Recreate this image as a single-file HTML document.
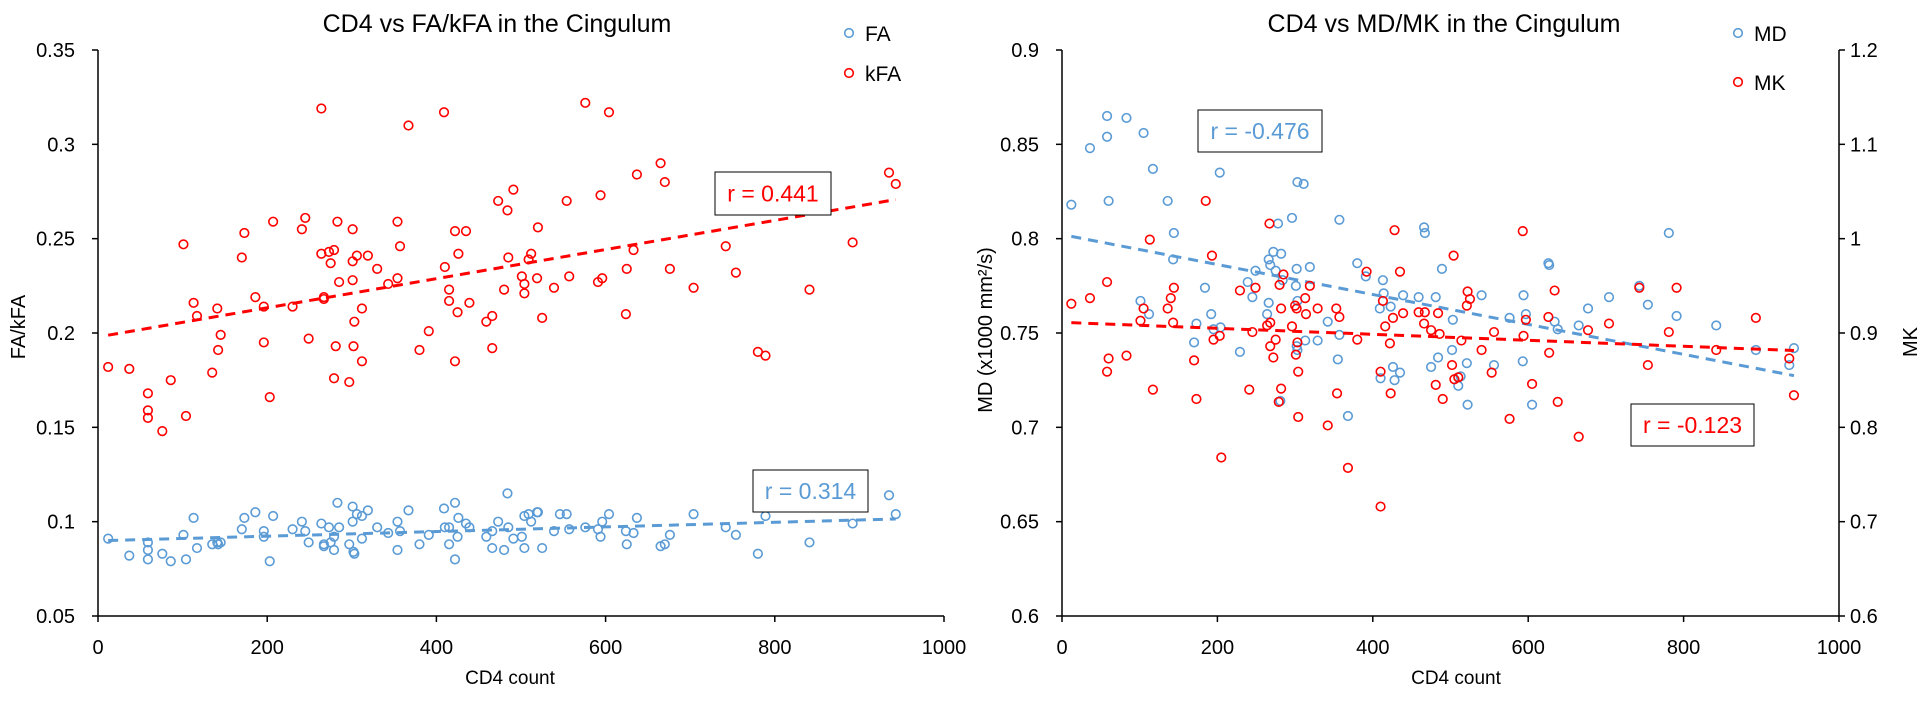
<!DOCTYPE html>
<html><head><meta charset="utf-8">
<style>
html,body{margin:0;padding:0;background:#fff;}
svg{display:block;font-family:"Liberation Sans",sans-serif;}
</style></head>
<body>
<svg id="chart" width="1928" height="710" viewBox="0 0 1928 710" xmlns="http://www.w3.org/2000/svg"></svg>
<script>
// ---------- Left chart data ----------
const cd4Left = [12,37,59,59,59,76,86,101,104,113,117,135,141,142,145,170,173,186,196,196,203,207,230,241,245,249,264,264,267,267,273,275,279,279,281,283,285,297,301,301,301,303,302,306,312,312,319,330,343,354,354,357,367,380,391,409,410,415,415,422,422,425,426,435,439,459,466,466,473,480,484,485,491,501,504,504,509,512,519,520,525,539,554,557,576,591,594,596,604,624,625,633,637,665,670,676,704,742,754,780,789,841,892,935,943];
const kfaValues = [0.182,0.181,0.168,0.159,0.155,0.148,0.175,0.247,0.156,0.216,0.209,0.179,0.213,0.191,0.199,0.240,0.253,0.219,0.214,0.195,0.166,0.259,0.214,0.255,0.261,0.197,0.319,0.242,0.219,0.218,0.243,0.237,0.244,0.176,0.193,0.259,0.227,0.174,0.238,0.228,0.255,0.206,0.193,0.241,0.213,0.185,0.241,0.234,0.226,0.229,0.259,0.246,0.310,0.191,0.201,0.317,0.235,0.223,0.217,0.185,0.254,0.211,0.242,0.254,0.216,0.206,0.209,0.192,0.270,0.223,0.265,0.240,0.276,0.230,0.226,0.221,0.239,0.242,0.229,0.256,0.208,0.224,0.270,0.230,0.322,0.227,0.273,0.229,0.317,0.210,0.234,0.244,0.284,0.290,0.280,0.234,0.224,0.246,0.232,0.190,0.188,0.223,0.248,0.285,0.279];
const cd4FA = [12,37,59,59,59,76,86,101,104,113,117,135,141,142,145,170,173,186,196,196,203,207,230,241,245,249,264,267,267,273,275,279,279,283,285,297,301,301,303,302,306,312,312,319,330,343,354,354,357,367,380,391,409,410,415,415,422,422,425,426,435,439,459,466,466,473,480,484,485,491,501,504,504,509,512,519,520,525,539,546,554,557,576,591,594,596,604,624,625,633,637,665,670,676,704,742,754,780,789,841,892,935,943];
const faValues = [0.091,0.082,0.089,0.085,0.080,0.083,0.079,0.093,0.080,0.102,0.086,0.088,0.089,0.088,0.089,0.096,0.102,0.105,0.095,0.092,0.079,0.103,0.096,0.100,0.095,0.089,0.099,0.088,0.087,0.097,0.089,0.092,0.085,0.110,0.097,0.088,0.108,0.100,0.083,0.084,0.104,0.103,0.091,0.106,0.097,0.094,0.100,0.085,0.095,0.106,0.088,0.093,0.107,0.097,0.097,0.088,0.080,0.110,0.092,0.102,0.099,0.097,0.092,0.095,0.086,0.100,0.085,0.115,0.097,0.091,0.092,0.103,0.086,0.104,0.100,0.105,0.105,0.086,0.095,0.104,0.104,0.096,0.097,0.096,0.092,0.100,0.104,0.095,0.088,0.094,0.102,0.087,0.088,0.093,0.104,0.097,0.093,0.083,0.103,0.089,0.099,0.114,0.104];
const leftYTicks = ["0.05","0.1","0.15","0.2","0.25","0.3","0.35"];
const xTicks = ["0","200","400","600","800","1000"];
// ---------- Right chart data ----------
const cd4MD = [12,36,58,58,60,83,101,105,112,117,136,143,144,170,173,184,192,195,203,204,229,239,245,249,264,266,266,268,272,275,278,281,282,284,296,301,302,302,303,303,303,311,313,319,329,342,355,357,357,368,380,391,409,410,413,414,423,426,428,435,439,459,466,467,475,481,484,489,502,503,510,513,521,522,540,556,576,593,594,597,605,626,627,634,638,665,677,704,743,754,781,791,842,893,936,942];
const mdValues = [0.818,0.848,0.865,0.854,0.820,0.864,0.767,0.856,0.760,0.837,0.820,0.789,0.803,0.745,0.755,0.774,0.760,0.752,0.835,0.753,0.740,0.777,0.769,0.783,0.760,0.766,0.789,0.786,0.793,0.783,0.808,0.714,0.792,0.778,0.811,0.775,0.784,0.743,0.741,0.767,0.830,0.829,0.746,0.785,0.746,0.756,0.736,0.749,0.810,0.706,0.787,0.780,0.763,0.726,0.778,0.771,0.764,0.732,0.725,0.729,0.770,0.769,0.806,0.803,0.732,0.769,0.737,0.784,0.741,0.757,0.722,0.727,0.734,0.712,0.770,0.733,0.758,0.735,0.770,0.760,0.712,0.787,0.786,0.756,0.752,0.754,0.763,0.769,0.775,0.765,0.803,0.759,0.754,0.741,0.733,0.742];
const cd4MK = [12,36,58,58,60,83,101,105,113,117,136,140,143,144,170,173,185,193,195,203,205,229,241,245,249,264,267,268,268,272,275,279,280,282,282,285,296,300,301,302,303,304,304,313,314,319,329,342,353,354,357,368,380,392,410,410,413,416,422,423,426,428,435,439,459,466,467,475,481,484,486,490,502,504,505,510,514,521,522,525,540,553,556,576,593,594,597,605,626,627,634,638,665,677,704,743,754,781,791,842,893,936,942];
const mkValues = [0.931,0.937,0.954,0.859,0.873,0.876,0.913,0.926,0.999,0.840,0.926,0.937,0.911,0.948,0.871,0.830,1.040,0.982,0.893,0.897,0.768,0.945,0.840,0.901,0.948,0.908,1.016,0.911,0.886,0.874,0.893,0.827,0.951,0.926,0.841,0.962,0.907,0.929,0.877,0.926,0.890,0.859,0.811,0.937,0.920,0.950,0.926,0.802,0.926,0.836,0.917,0.757,0.893,0.965,0.859,0.716,0.934,0.907,0.889,0.836,0.916,1.009,0.965,0.921,0.922,0.910,0.922,0.903,0.845,0.921,0.899,0.830,0.866,0.982,0.851,0.853,0.892,0.929,0.944,0.936,0.882,0.858,0.901,0.809,1.008,0.897,0.914,0.846,0.917,0.879,0.945,0.827,0.790,0.903,0.910,0.948,0.866,0.901,0.948,0.882,0.916,0.873,0.834];
const mdTicks = ["0.6","0.65","0.7","0.75","0.8","0.85","0.9"];
const mkTicks = ["0.6","0.7","0.8","0.9","1","1.1","1.2"];

const NS = "http://www.w3.org/2000/svg";
const svg = document.getElementById('chart');
const BLUE = "#5B9BD5", RED = "#FF0000";
const TOP = 50, BOT = 616;

function mk(tag, attrs, parent) {
  const e = document.createElementNS(NS, tag);
  for (const k in attrs) e.setAttribute(k, attrs[k]);
  (parent || svg).appendChild(e);
  return e;
}
function txt(s, attrs, parent) { const e = mk('text', attrs, parent); e.textContent = s; return e; }

function xScale(x0, x1) { return v => x0 + (v / 1000) * (x1 - x0); }
function yScale(min, max) { return v => BOT - (v - min) / (max - min) * (BOT - TOP); }

function regression(xs, ys) {
  const n = Math.min(xs.length, ys.length);
  let sx = 0, sy = 0, sxx = 0, sxy = 0;
  for (let i = 0; i < n; i++) { sx += xs[i]; sy += ys[i]; sxx += xs[i] * xs[i]; sxy += xs[i] * ys[i]; }
  const b = (n * sxy - sx * sy) / (n * sxx - sx * sx);
  return { b: b, a: (sy - b * sx) / n };
}

function drawSeries(g, xs, ys, X, Y, color, name) {
  const n = Math.min(xs.length, ys.length);
  for (let i = 0; i < n; i++) {
    const c = mk('circle', { cx: X(xs[i]), cy: Y(ys[i]), r: 4.3, fill: 'none', stroke: color, 'stroke-width': 1.6 }, g);
    
    
  }
  const r = regression(xs, ys);
  const minX = Math.min(...xs), maxX = Math.max(...xs);
  const l = mk('line', { x1: X(minX), y1: Y(r.a + r.b * minX), x2: X(maxX), y2: Y(r.a + r.b * maxX), stroke: color, 'stroke-width': 3, 'stroke-dasharray': '10,7' }, g);
  
  
}

function drawXAxis(g, x0, x1) {
  const X = xScale(x0, x1);
  mk('line', { x1: x0, y1: BOT, x2: x1, y2: BOT, stroke: '#000', 'stroke-width': 1.5 }, g);
  xTicks.forEach(t => {
    const v = +t;
    mk('line', { x1: X(v), y1: BOT, x2: X(v), y2: BOT + 6, stroke: '#000', 'stroke-width': 1.5 }, g);
    const e = txt(t, { x: X(v), y: 654, 'font-size': 20, 'text-anchor': 'middle' }, g);
    
    
  });
  return X;
}
function drawYAxis(g, ax, ticks, min, max, side) {
  const Y = yScale(min, max);
  mk('line', { x1: ax, y1: TOP, x2: ax, y2: BOT, stroke: '#000', 'stroke-width': 1.5 }, g);
  ticks.forEach(t => {
    const v = +t;
    const d = side === 'left' ? -6 : 6;
    mk('line', { x1: ax, y1: Y(v), x2: ax + d, y2: Y(v), stroke: '#000', 'stroke-width': 1.5 }, g);
    const e = txt(t, { x: side === 'left' ? ax - 23 : ax + 11, y: Y(v) + 7, 'font-size': 20, 'text-anchor': side === 'left' ? 'end' : 'start' }, g);
    
    
  });
  return Y;
}
function rBox(g, x, y, w, h, label, color, name) {
  const grp = mk('g', {}, g);
  
  
  mk('rect', { x: x, y: y, width: w, height: h, fill: '#fff', stroke: '#000', 'stroke-width': 1 }, grp);
  txt(label, { x: x + w / 2, y: y + h / 2 + 8, 'font-size': 23, fill: color, 'text-anchor': 'middle' }, grp);
}
function legend(g, x, y, color, label, name) {
  const grp = mk('g', {}, g);
  
  
  mk('circle', { cx: x, cy: y, r: 4.3, fill: 'none', stroke: color, 'stroke-width': 1.6 }, grp);
  txt(label, { x: x + 16, y: y + 8, 'font-size': 21 }, grp);
}

// ----- Left chart -----
const gL = mk('g', {});


const XL = drawXAxis(gL, 98, 944);
const YL = drawYAxis(gL, 98, leftYTicks, 0.05, 0.35, 'left');
drawSeries(gL, cd4FA, faValues, XL, YL, BLUE, 'fa');
drawSeries(gL, cd4Left, kfaValues, XL, YL, RED, 'kfa');
let t1 = txt('CD4 vs FA/kFA in the Cingulum', { x: 497, y: 32, 'font-size': 25, 'text-anchor': 'middle' }, gL);


let xt1 = txt('CD4 count', { x: 510, y: 684, 'font-size': 19, 'text-anchor': 'middle' }, gL);


let yt1 = txt('FA/kFA', { x: 0, y: 0, 'font-size': 20, 'text-anchor': 'middle', transform: 'translate(25,327) rotate(-90)' }, gL);


legend(gL, 849, 33, BLUE, 'FA', 'legend-fa');
legend(gL, 849, 73, RED, 'kFA', 'legend-kfa');
rBox(gL, 715, 172, 116, 43, 'r = 0.441', RED, 'kfa-r-label');
rBox(gL, 753, 470, 115, 42, 'r = 0.314', BLUE, 'fa-r-label');

// ----- Right chart -----
const gR = mk('g', {});


const XR = drawXAxis(gR, 1062, 1839);
const YMD = drawYAxis(gR, 1062, mdTicks, 0.6, 0.9, 'left');
const YMK = drawYAxis(gR, 1839, mkTicks, 0.6, 1.2, 'right');
drawSeries(gR, cd4MD, mdValues, XR, YMD, BLUE, 'md');
drawSeries(gR, cd4MK, mkValues, XR, YMK, RED, 'mk');
let t2 = txt('CD4 vs MD/MK in the Cingulum', { x: 1444, y: 32, 'font-size': 25, 'text-anchor': 'middle' }, gR);


let xt2 = txt('CD4 count', { x: 1456, y: 684, 'font-size': 19, 'text-anchor': 'middle' }, gR);


let yt2 = txt('MD (x1000 mm²/s)', { x: 0, y: 0, 'font-size': 20, 'text-anchor': 'middle', transform: 'translate(992,330) rotate(-90)' }, gR);


let yt3 = txt('MK', { x: 0, y: 0, 'font-size': 20, 'text-anchor': 'middle', transform: 'translate(1917,342) rotate(-90)' }, gR);


legend(gR, 1738, 33, BLUE, 'MD', 'legend-md');
legend(gR, 1738, 82, RED, 'MK', 'legend-mk');
rBox(gR, 1198, 110, 124, 42, 'r = -0.476', BLUE, 'md-r-label');
rBox(gR, 1631, 404, 123, 42, 'r = -0.123', RED, 'mk-r-label');
</script>
</body></html>
